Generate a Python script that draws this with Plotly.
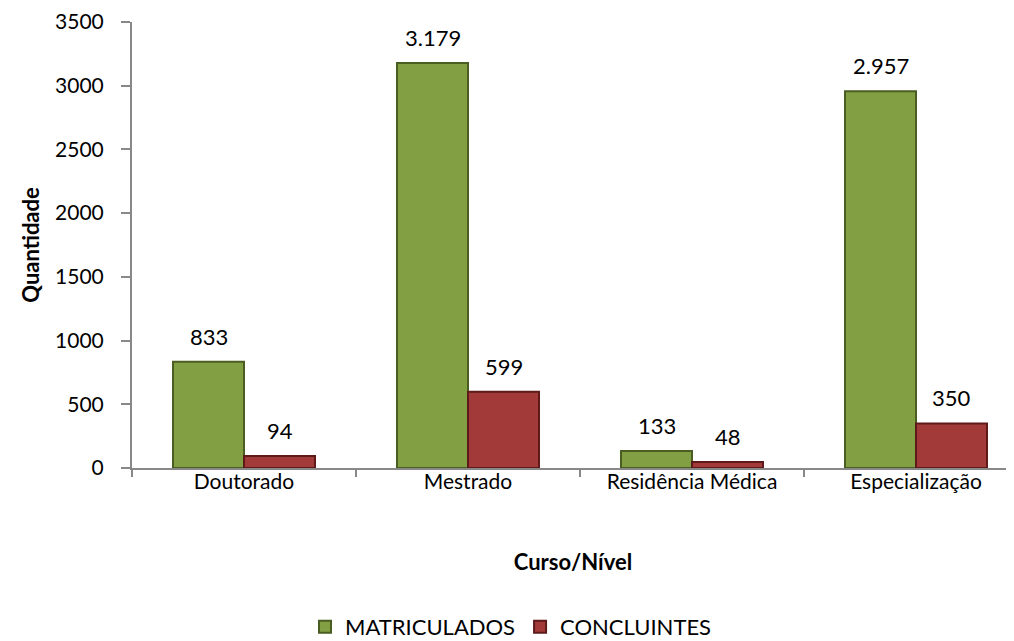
import plotly.graph_objects as go

categories = ["Doutorado", "Mestrado", "Residência Médica", "Especialização"]
matriculados = [833, 3179, 133, 2957]
concluintes = [94, 599, 48, 350]
matric_labels = ["833", "3.179", "133", "2.957"]
concl_labels = ["94", "599", "48", "350"]

FONT = "Lato"
BARGAP = 0.366
half = (1 - BARGAP) / 4  # offset of each bar centre from category centre

fig = go.Figure()
fig.add_trace(go.Bar(
    x=categories, y=matriculados, name="MATRICULADOS",
    marker=dict(color="#82A043", line=dict(color="#4A5E22", width=2)),
))
fig.add_trace(go.Bar(
    x=categories, y=concluintes, name="CONCLUINTES",
    marker=dict(color="#A23A3A", line=dict(color="#5E1A1A", width=2)),
))

annotations = []
for i, (v, t) in enumerate(zip(matriculados, matric_labels)):
    annotations.append(dict(x=i - half, y=v, xref="x", yref="y", text=t, showarrow=False,
                            yanchor="bottom", yshift=10, font=dict(size=22, family=FONT, color="#000")))
for i, (v, t) in enumerate(zip(concluintes, concl_labels)):
    annotations.append(dict(x=i + half, y=v, xref="x", yref="y", text=t, showarrow=False,
                            yanchor="bottom", yshift=10, font=dict(size=22, family=FONT, color="#000")))

# page body has an 8px default margin, so the figure is sized/offset to compensate
fig.update_layout(
    width=1006, height=633,
    margin=dict(l=124, r=0, t=14, b=173),
    paper_bgcolor="white", plot_bgcolor="white",
    barmode="group", bargap=BARGAP, bargroupgap=0,
    font=dict(family=FONT, size=21, color="#000"),
    showlegend=True,
    legend=dict(orientation="h", x=0.5, xanchor="center", xref="container",
                y=0.022, yanchor="middle", yref="container",
                font=dict(size=22), itemwidth=30, tracegroupgap=0),
    annotations=annotations,
    xaxis=dict(
        range=[-0.5, 3.4375], automargin=False,
        showline=True, linecolor="#888", linewidth=2,
        ticks="outside", tickson="boundaries", ticklen=7, tickcolor="#888", tickwidth=2,
        ticklabelstandoff=-6,
        title=dict(text="<b>Curso/Nível</b>", font=dict(size=22), standoff=62),
    ),
    yaxis=dict(
        range=[0, 3500], dtick=500, showgrid=False, automargin=False,
        showline=True, linecolor="#888", linewidth=2,
        ticks="outside", ticklen=9, tickcolor="#888", tickwidth=2,
        ticklabelstandoff=13,
        zeroline=False,
        title=dict(text="<b>Quantidade</b>", font=dict(size=22), standoff=9),
    ),
)
fig.write_html("out.html")
